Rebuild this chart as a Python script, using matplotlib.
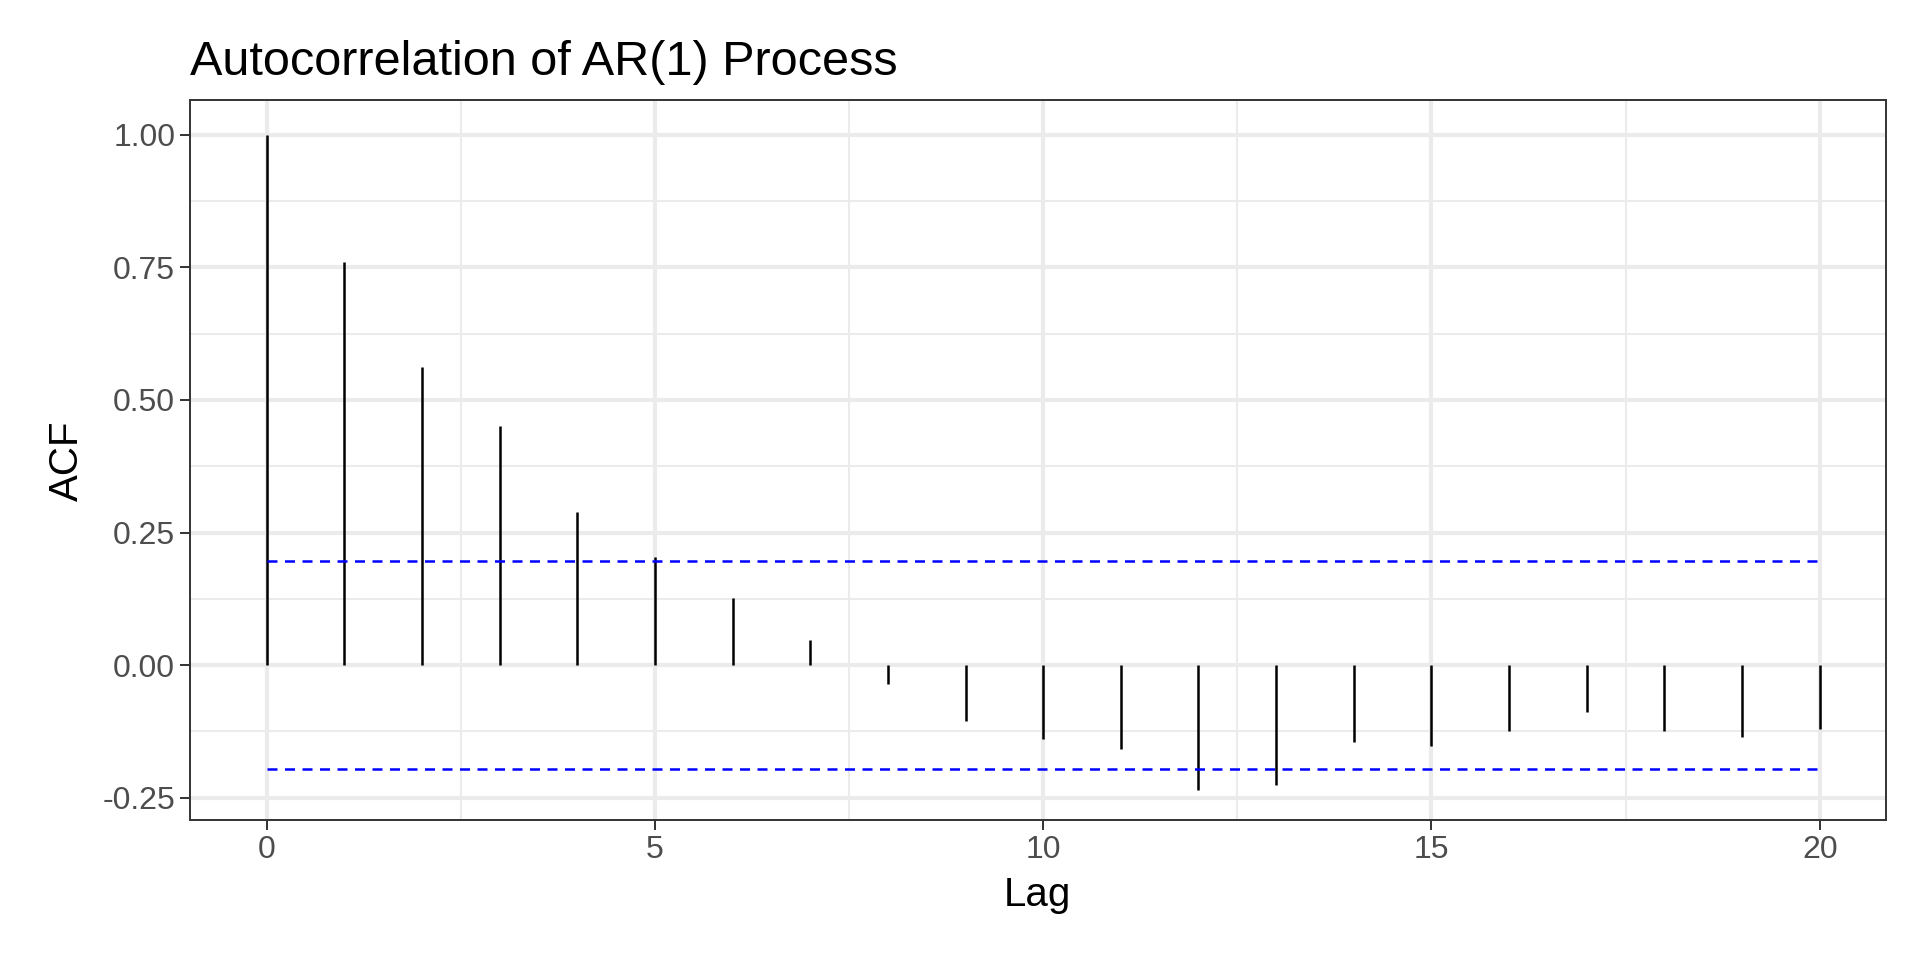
import numpy as np
import matplotlib.pyplot as plt

lags = np.arange(0, 21)
acf = [1.00, 0.76, 0.563, 0.45, 0.289, 0.203, 0.127, 0.048, -0.035, -0.106,
       -0.139, -0.159, -0.236, -0.226, -0.145, -0.152, -0.125, -0.088,
       -0.125, -0.136, -0.12]
ci = 0.196

plt.rcParams["font.family"] = ["Liberation Sans", "DejaVu Sans"]

W, H = 1568, 784
fig = plt.figure(figsize=(19.2, 9.6), dpi=100)
ax = fig.add_axes([155 / W, 1 - 670 / H, (1540 - 155) / W, (670 - 82) / H])

ax.vlines(lags, 0, acf, color="black", lw=1.8, zorder=3)
ax.hlines([ci, -ci], 0, 20, color="blue", lw=1.8, linestyles=(0, (4, 3)), zorder=3)

ax.set_xlim(-0.99, 20.85)
ax.set_ylim(-0.293, 1.065)
ax.set_xticks([0, 5, 10, 15, 20])
ax.set_xticks([2.5, 7.5, 12.5, 17.5], minor=True)
ax.set_yticks([-0.25, 0, 0.25, 0.5, 0.75, 1.0])
ax.set_yticks([-0.125, 0.125, 0.375, 0.625, 0.875], minor=True)
ax.set_yticklabels(["-0.25", "0.00", "0.25", "0.50", "0.75", "1.00"])
ax.grid(which="major", color="#EBEBEB", lw=3.0)
ax.grid(which="minor", color="#EBEBEB", lw=1.5)
ax.set_axisbelow(True)
ax.tick_params(which="major", length=7, color="#333333", labelsize=23, labelcolor="#4D4D4D", width=1.4)
ax.tick_params(which="minor", length=0)
for s in ax.spines.values():
    s.set_color("#333333")
    s.set_linewidth(1.4)

ax.set_xlabel("Lag", fontsize=29, labelpad=8)
ax.set_ylabel("ACF", fontsize=29, labelpad=12)
ax.set_title("Autocorrelation of AR(1) Process", fontsize=35, loc="left", pad=18)

fig.savefig("out.png", dpi=100)
